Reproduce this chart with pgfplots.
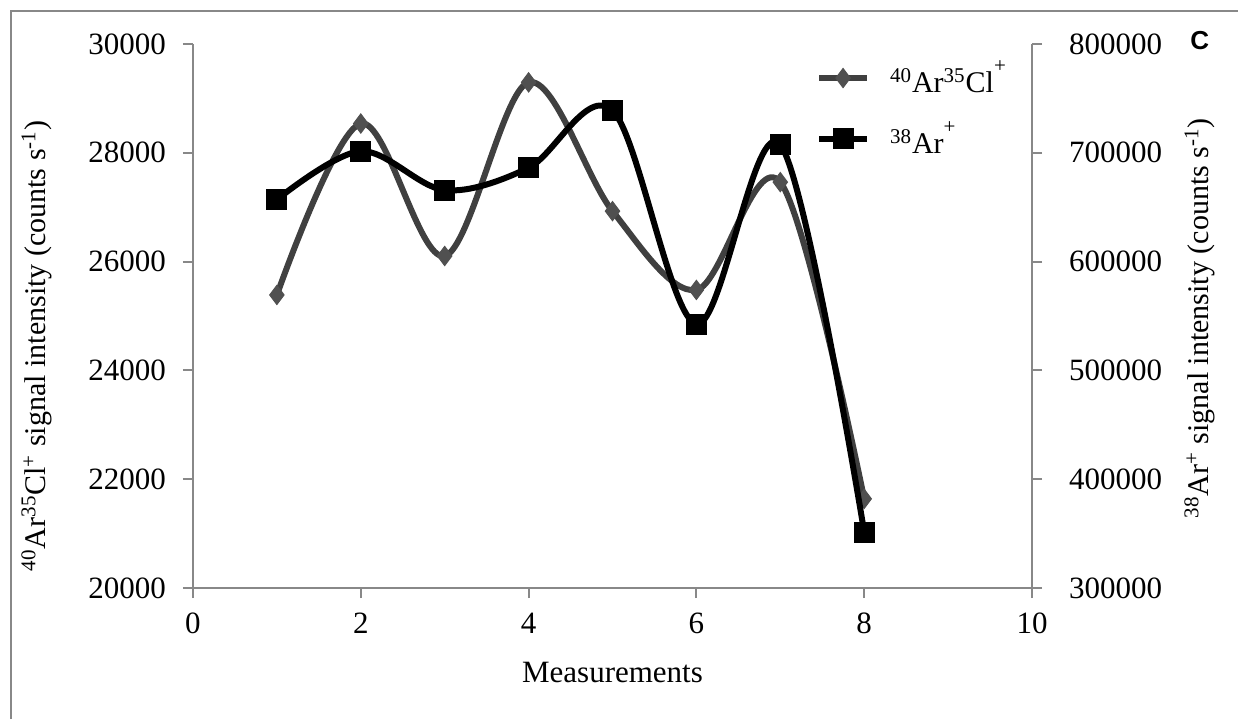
\documentclass[border=0pt]{standalone}
\usepackage{fontspec}
\setmainfont{Liberation Serif}
\newfontfamily\arialfont{Liberation Sans}
\usepackage{pgfplots}
\pgfplotsset{compat=1.18}

\definecolor{axisgray}{RGB}{136,136,136}
\definecolor{clgray}{RGB}{64,64,64}
\definecolor{clmark}{RGB}{80,80,80}

\newcommand{\bigfont}{\fontsize{15.5}{18}\selectfont}

\pgfplotsset{
  common/.style={
    scale only axis,
    width=419.5pt, height=272pt,
    xmin=0, xmax=10,
    clip=false,
    axis line style={draw=axisgray, line width=1pt},
    tick style={draw=axisgray, line width=1pt},
    major tick length=5pt,
    tick align=outside,
    tick label style={font=\bigfont},
    label style={font=\fontsize{15}{18}\selectfont},
    /pgf/number format/assume math mode=true,
    /pgf/number format/fixed,
    /pgf/number format/precision=0,
    /pgf/number format/1000 sep={},
    scaled y ticks=false,
  },
  clstyle/.style={color=clgray, line width=3pt, smooth, tension=0.55,
    mark=diamond*, mark size=4.8pt,
    mark options={fill=clmark, draw=clmark, line width=0.5pt}},
  arstyle/.style={color=black, line width=3pt, smooth, tension=0.55,
    mark=square*, mark size=5pt,
    mark options={fill=black, draw=black, line width=0.5pt}},
}

\begin{document}
\begin{tikzpicture}
  % left axis: 40Ar35Cl+
  \begin{axis}[common,
      ymin=20000, ymax=30000,
      ytick={20000,22000,24000,26000,28000,30000},
      xtick={0,2,4,6,8,10},
      axis x line*=bottom, axis y line*=left,
      yticklabel style={xshift=-5pt},
      xticklabel style={yshift=-4pt},
      xlabel={Measurements},
      xlabel style={at={(rel axis cs:0.5,-0.155)}, anchor=center,
        font=\bigfont},
      ylabel={\textsuperscript{40}Ar\textsuperscript{35}Cl\textsuperscript{+} signal intensity (counts s\textsuperscript{-1})},
      ylabel style={at={(rel axis cs:-0.186,0.445)}, anchor=center, rotate=0},
    ]
    \addplot[clstyle] coordinates {
      (1,25387) (2,28538) (3,26103) (4,29295)
      (5,26928) (6,25479) (7,27461) (8,21639)};
  \end{axis}

  % right axis: 38Ar+
  \begin{axis}[common,
      ymin=300000, ymax=800000,
      ytick={300000,400000,500000,600000,700000,800000},
      axis x line=none, axis y line*=right,
      yticklabel style={xshift=10pt},
      ylabel={\textsuperscript{38}Ar\textsuperscript{+} signal intensity (counts s\textsuperscript{-1})},
      ylabel style={at={(rel axis cs:1.2,0.496)}, anchor=center, rotate=0},
      legend style={at={(rel axis cs:0.735,0.985)}, anchor=north west,
        draw=none, fill=none, font=\fontsize{15}{18}\selectfont, row sep=9pt},
      legend cell align=left,
      legend image code/.code={
        \draw[mark repeat=2, mark phase=2, #1]
          plot coordinates {(0pt,0pt) (12pt,0pt) (24pt,0pt)};},
    ]
    \addlegendimage{clstyle}
    \addlegendentry{\hspace*{8pt}\textsuperscript{40}Ar\textsuperscript{35}Cl\raisebox{0.7ex}{\textsuperscript{+}}}
    \addplot[arstyle] coordinates {
      (1,657000) (2,701500) (3,665700) (4,686200)
      (5,739000) (6,542500) (7,707600) (8,351400)};
    \addlegendentry{\hspace*{8pt}\textsuperscript{38}Ar\raisebox{0.7ex}{\textsuperscript{+}}}
    \node[font=\arialfont\bfseries\fontsize{13}{15}\selectfont]
      at (rel axis cs:1.2,1.007) {C};
  \end{axis}

  % outer frame (left and top edges)
  \draw[axisgray, line width=1pt] (-91pt,-65.5pt) -- (-91pt,288.5pt) -- (522.5pt,288.5pt);

  \pgfresetboundingbox
  \useasboundingbox (-96.5pt,-65.5pt) rectangle (522.5pt,294pt);
\end{tikzpicture}
\end{document}
